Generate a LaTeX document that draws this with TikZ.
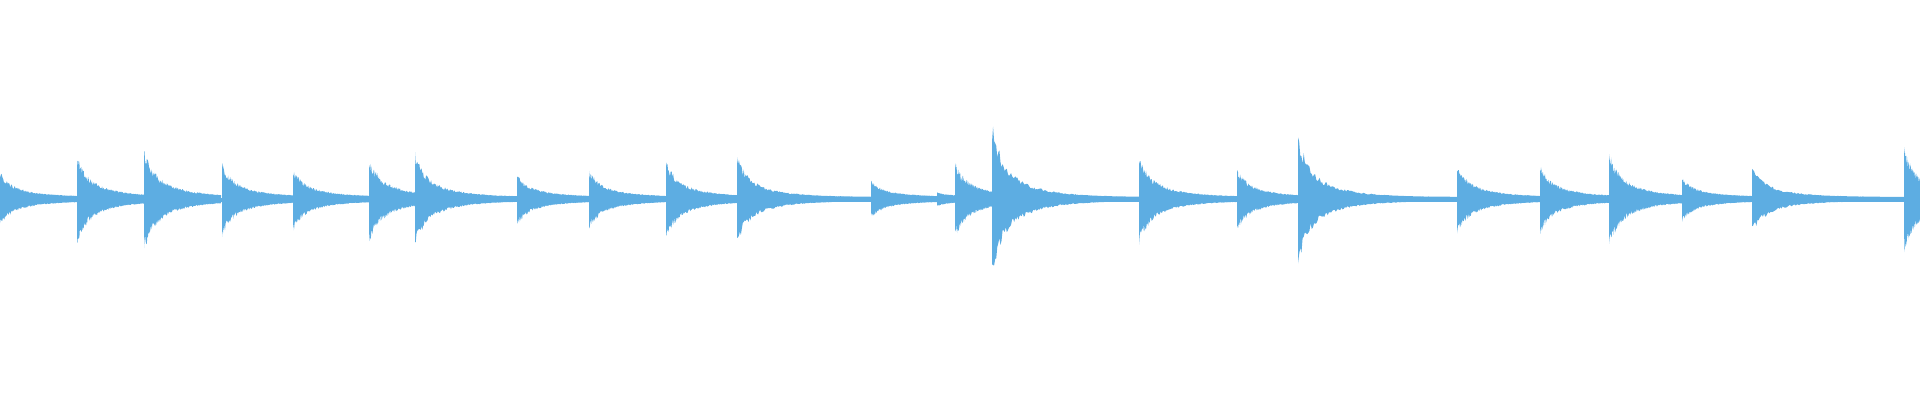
\documentclass[tikz,border=0pt]{standalone}
\usepackage{tikz}
\definecolor{wavecol}{RGB}{93,173,226}

\begin{document}
\begin{tikzpicture}[x=1pt, y=-1pt]
\tikzstyle{wave} = [fill=wavecol, draw=none]
\pgfmathsetseed{7}

\useasboundingbox (0,0) rectangle (1920,400);
% thin base line of the signal
\fill[wave] (0,197.5) rectangle (1920,201.5);
% one decaying hit per onset: x, amplitude, length
\foreach \xo/\a/\w in {0/26/77, 77/42/67, 144/50/77, 222/35/71, 293/29/76, 369/41/46, 415/45/102, 517/24/72, 589/28/77, 666/38/71, 737/43/134, 871/17/66, 937/5/18, 955/36/37, 992/77/147, 1139/43/98, 1237/29/61, 1298/65/159, 1457/34/83, 1540/33/69, 1609/46/73, 1682/20/70, 1752/34/152, 1904/50/16}
{
  \fill[wave] plot[domain=0:\w, samples=140]
      ({\xo+\x}, {199-2-\a*(0.5*exp(-\x/9)+0.5*exp(-\x/32))*(0.7+0.3*rnd)})
    -- plot[domain=\w:0, samples=140]
      ({\xo+\x}, {199+2+1.05*\a*(0.5*exp(-\x/9)+0.5*exp(-\x/32))*(0.7+0.3*rnd)})
    -- cycle;
}
\end{tikzpicture}
\end{document}
